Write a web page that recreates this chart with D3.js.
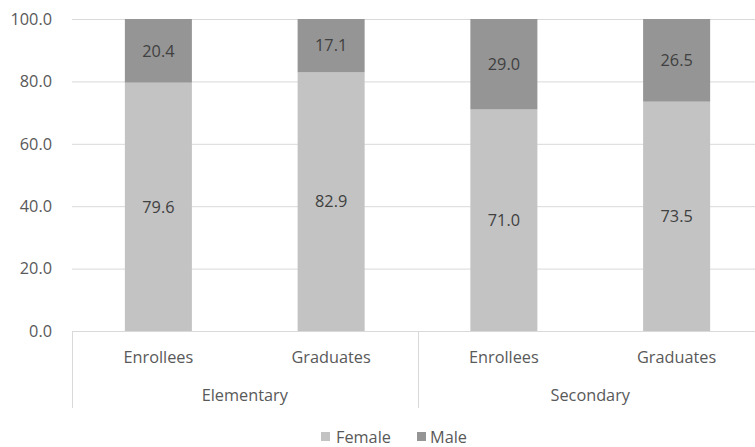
<!DOCTYPE html>
<html>
<head>
<meta charset="utf-8">
<script src="https://cdn.jsdelivr.net/npm/d3@7"></script>
<style>
  html, body { margin: 0; padding: 0; background: #fff; }
  svg { display: block; font-family: "Open Sans", sans-serif; }
</style>
</head>
<body>
<svg id="chart" width="755" height="447"></svg>
<script>
// Share of enrollees and graduates by sex, elementary vs secondary
const groups = ["Elementary", "Secondary"];
const stages = ["Enrollees", "Graduates"];
const categories = ["Elementary|Enrollees", "Elementary|Graduates", "Secondary|Enrollees", "Secondary|Graduates"];
const female = [79.6, 82.9, 71.0, 73.5];
const male = [20.4, 17.1, 29.0, 26.5];
const yTicks = [0, 20, 40, 60, 80, 100];
const seriesNames = ["Female", "Male"];
const seriesColors = ["#c3c3c3", "#959595"];

const svg = d3.select("#chart");
const plotLeft = 72, plotRight = 763, plotTop = 19, plotBottom = 331;
const fontSize = 16.3;

const x = d3.scaleBand().domain(categories).range([plotLeft, plotRight])
  .paddingInner(0.612).paddingOuter(0.306);
const y = d3.scaleLinear().domain([0, 100]).range([plotBottom, plotTop]);

// gridlines
svg.append("g").selectAll("line").data(yTicks).join("line")
  .attr("x1", plotLeft).attr("x2", plotRight)
  .attr("y1", d => y(d) + 0.5).attr("y2", d => y(d) + 0.5)
  .attr("stroke", "#d9d9d9").attr("stroke-width", 1);

// y tick labels
svg.append("g").selectAll("text").data(yTicks).join("text")
  .attr("x", 52).attr("y", d => y(d)).attr("dy", "0.35em")
  .attr("text-anchor", "end").attr("font-size", fontSize).attr("fill", "#595959")
  .text(d => d3.format(".1f")(d));

// stacked bars
const rows = categories.map((c, i) => ({ key: c, Female: female[i], Male: male[i] }));
const stack = d3.stack().keys(seriesNames)(rows);
const layer = svg.append("g").selectAll("g").data(stack).join("g")
  .attr("fill", (d, i) => seriesColors[i]);
layer.selectAll("rect").data(d => d).join("rect")
  .attr("x", d => x(d.data.key)).attr("width", x.bandwidth())
  .attr("y", d => y(d[1])).attr("height", d => y(d[0]) - y(d[1]));

// value labels centred in each segment
svg.append("g").selectAll("g").data(stack).join("g")
  .selectAll("text").data(d => d.map(v => ({ v, key: d.key }))).join("text")
  .attr("x", d => x(d.v.data.key) + x.bandwidth() / 2)
  .attr("y", d => (y(d.v[0]) + y(d.v[1])) / 2).attr("dy", "0.35em")
  .attr("text-anchor", "middle").attr("font-size", fontSize).attr("fill", "#404040")
  .text(d => d3.format(".1f")(d.v.data[d.key]));

// category axis: stage labels, group labels, dividers
const axisBottom = 408;
svg.append("g").selectAll("text").data(categories).join("text")
  .attr("x", d => x(d) + x.bandwidth() / 2).attr("y", 357).attr("dy", "0.35em")
  .attr("text-anchor", "middle").attr("font-size", fontSize).attr("fill", "#595959")
  .text(d => d.split("|")[1]);

const groupStep = (plotRight - plotLeft) / groups.length;
svg.append("g").selectAll("text").data(groups).join("text")
  .attr("x", (d, i) => plotLeft + groupStep * (i + 0.5)).attr("y", 395).attr("dy", "0.35em")
  .attr("text-anchor", "middle").attr("font-size", fontSize).attr("fill", "#595959")
  .text(d => d);

svg.append("g").selectAll("line").data(d3.range(groups.length + 1)).join("line")
  .attr("x1", i => Math.round(plotLeft + groupStep * i) + 0.5)
  .attr("x2", i => Math.round(plotLeft + groupStep * i) + 0.5)
  .attr("y1", plotBottom).attr("y2", axisBottom)
  .attr("stroke", "#d9d9d9").attr("stroke-width", 1);

// legend
const legend = svg.append("g");
const legendItems = [{ name: "Female", sx: 321, tx: 336 }, { name: "Male", sx: 417, tx: 430 }];
legendItems.forEach((it, i) => {
  legend.append("rect").attr("x", it.sx).attr("y", 432).attr("width", 9).attr("height", 9)
    .attr("fill", seriesColors[i]);
  legend.append("text").attr("x", it.tx).attr("y", 437).attr("dy", "0.35em")
    .attr("font-size", fontSize).attr("fill", "#595959").text(it.name);
});
</script>
</body>
</html>
